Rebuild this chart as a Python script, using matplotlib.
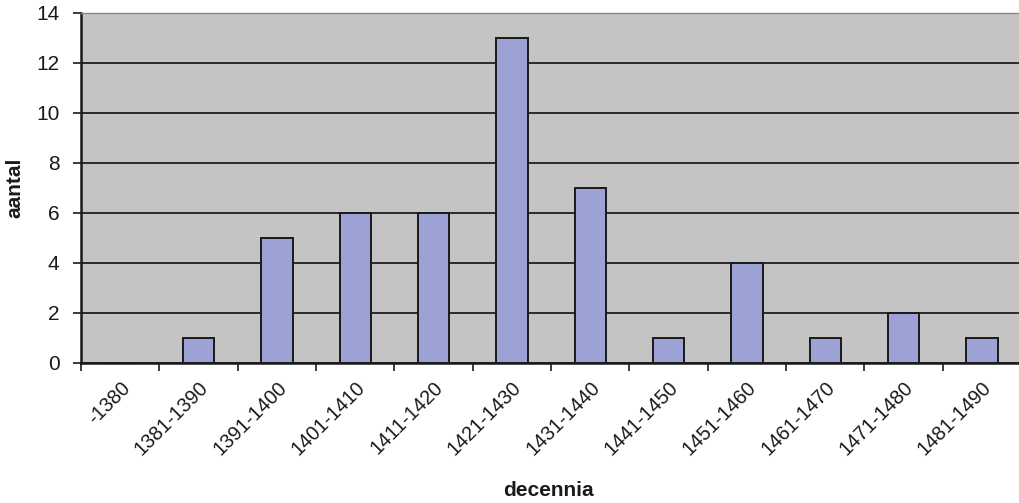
import matplotlib
matplotlib.use("Agg")
import matplotlib.pyplot as plt
import matplotlib.transforms as mtransforms
import numpy as np

categories = ["-1380", "1381-1390", "1391-1400", "1401-1410", "1411-1420", "1421-1430",
              "1431-1440", "1441-1450", "1451-1460", "1461-1470", "1471-1480", "1481-1490"]
values = [0, 1, 5, 6, 6, 13, 7, 1, 4, 1, 2, 1]

plt.rcParams['font.family'] = ['Liberation Sans', 'DejaVu Sans']

fig = plt.figure(figsize=(10.19, 5.03), dpi=100)
ax = fig.add_axes([81/1019, 1 - 363/503, (1021-81)/1019, (363-13)/503])
ax.set_facecolor('#c3c4c3')
x = np.arange(len(categories))
ax.bar(x, values, width=0.4, color='#9ca3d4', edgecolor='#1a1a1a', linewidth=1.4, zorder=3)
ax.set_xlim(-0.5, len(categories) - 0.5)
ax.set_ylim(0, 14)
ax.set_yticks(range(0, 15, 2))
ax.yaxis.grid(True, color='#111111', linewidth=1.2, zorder=1)
ax.set_axisbelow(True)
ax.set_xticks(np.arange(len(categories) + 1) - 0.5, minor=False)
ax.set_xticklabels([])
ax.set_xticks(x, minor=True)
ax.set_xticklabels(categories, minor=True, rotation=45, ha='right', va='top',
                   rotation_mode='anchor', fontsize=14.3, color='#1a1a1a')
offset = mtransforms.ScaledTranslation(-5/100, 0, fig.dpi_scale_trans)
for lab in ax.get_xticklabels(minor=True):
    lab.set_transform(lab.get_transform() + offset)
ax.tick_params(axis='x', which='minor', length=0, pad=11)
ax.tick_params(axis='x', which='major', length=5.5, width=1.2, color='#1a1a1a', direction='out')
ax.tick_params(axis='y', length=5.5, width=1.2, labelsize=15, direction='out', pad=10,
               color='#1a1a1a', labelcolor='#1a1a1a')
for s in ['left', 'bottom']:
    ax.spines[s].set_color('#1a1a1a')
    ax.spines[s].set_linewidth(1.8)
ax.spines['top'].set_color('#888888')
ax.spines['top'].set_linewidth(1.0)
ax.spines['right'].set_visible(False)
fig.text(15/1019, 1 - 188/503, 'aantal', rotation=90, ha='center', va='center',
         fontsize=15, fontweight='bold', color='#1a1a1a')
fig.text(548/1019, 1 - 490/503, 'decennia', ha='center', va='center', fontsize=15,
         fontweight='bold', color='#1a1a1a')
fig.savefig('out.png', dpi=100)
